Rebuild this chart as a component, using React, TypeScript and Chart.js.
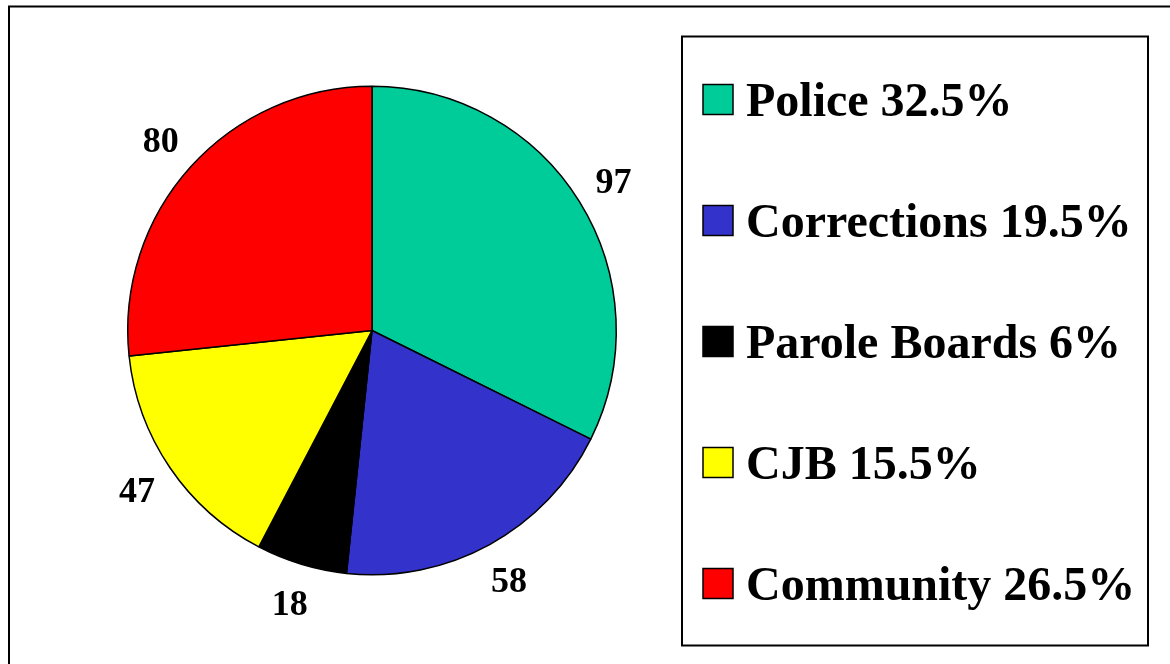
import React, { useEffect, useRef } from "react";
import { Chart, registerables } from "chart.js";

Chart.register(...registerables);

const categories = ["Police", "Corrections", "Parole Boards", "CJB", "Community"];
const counts = [97, 58, 18, 47, 80];
const legendPercents = ["32.5%", "19.5%", "6%", "15.5%", "26.5%"];
const sliceColors = ["#00CC99", "#3333CC", "#000000", "#FFFF00", "#FF0000"];

const FONT = "'Times New Roman', 'Liberation Serif', serif";

const framePlugin = {
  id: "frame",
  beforeDraw(chart: any) {
    const ctx = chart.ctx;
    ctx.save();
    ctx.fillStyle = "#ffffff";
    ctx.fillRect(0, 0, chart.width, chart.height);
    ctx.strokeStyle = "#000000";
    ctx.lineWidth = 2;
    ctx.strokeRect(9, 6.5, chart.width + 20, chart.height + 20);
    ctx.restore();
  },
};

const labelPlugin = {
  id: "sliceLabels",
  afterDatasetsDraw(chart: any) {
    const ctx = chart.ctx;
    const meta = chart.getDatasetMeta(0);
    ctx.save();
    const size = 36;
    ctx.font = `bold ${size}px ${FONT}`;
    ctx.fillStyle = "#000000";
    ctx.textAlign = "center";
    ctx.textBaseline = "alphabetic";
    meta.data.forEach((arc: any, i: number) => {
      const p = arc.getProps(["x", "y", "startAngle", "endAngle", "outerRadius"], true);
      const mid = (p.startAngle + p.endAngle) / 2;
      const r = p.outerRadius + 40;
      const lx = p.x + Math.cos(mid) * r;
      const ly = p.y + Math.sin(mid) * r;
      ctx.fillText(String(counts[i]), lx, ly + size * 0.338);
    });
    ctx.restore();
  },
};

const legendPlugin = {
  id: "boxLegend",
  afterDraw(chart: any) {
    const ctx = chart.ctx;
    ctx.save();
    const bx = 682, by = 36.5, bw = 466, bh = 609;
    ctx.strokeStyle = "#000000";
    ctx.lineWidth = 2;
    ctx.strokeRect(bx, by, bw, bh);
    const size = 48;
    ctx.font = `bold ${size}px ${FONT}`;
    ctx.textAlign = "left";
    ctx.textBaseline = "alphabetic";
    const firstY = 99.5;
    const step = 121;
    categories.forEach((c, i) => {
      const cy = firstY + i * step;
      const mx = 703, ms = 30;
      ctx.fillStyle = sliceColors[i];
      ctx.fillRect(mx, cy - ms / 2, ms, ms);
      ctx.lineWidth = 1.5;
      ctx.strokeStyle = "#000000";
      ctx.strokeRect(mx, cy - ms / 2, ms, ms);
      ctx.fillStyle = "#000000";
      ctx.fillText(`${c} ${legendPercents[i]}`, 746, cy + size * 0.338);
    });
    ctx.restore();
  },
};

export default function App() {
  const ref = useRef<HTMLCanvasElement | null>(null);
  useEffect(() => {
    if (!ref.current) return;
    const chart = new Chart(ref.current, {
      type: "pie",
      data: {
        labels: categories,
        datasets: [
          {
            data: counts,
            backgroundColor: sliceColors,
            borderColor: "#000000",
            borderWidth: 1.5,
          },
        ],
      },
      options: {
        animation: false,
        responsive: false,
        devicePixelRatio: 1,
        layout: { padding: { left: 127, right: 553, top: 85, bottom: 88 } },
        plugins: {
          legend: { display: false },
          tooltip: { enabled: false },
        },
      },
      plugins: [framePlugin, labelPlugin, legendPlugin],
    });
    return () => chart.destroy();
  }, []);
  return (
    <div style={{ position: "fixed", left: 0, top: 0, width: 1170, height: 664, background: "#fff" }}>
      <canvas ref={ref} width={1170} height={664} />
    </div>
  );
}
